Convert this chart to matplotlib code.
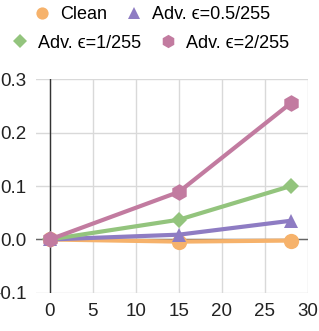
import matplotlib.pyplot as plt
from matplotlib.lines import Line2D

plt.rcParams['font.family'] = ['Liberation Sans', 'DejaVu Sans']

# Data
steps = [0, 15, 28]
clean = [0.0, -0.004, -0.002]
adv_05 = [0.0, 0.009, 0.035]
adv_1 = [0.0, 0.037, 0.100]
adv_2 = [0.0, 0.089, 0.255]

labels = ['Clean', 'Adv. ϵ=0.5/255', 'Adv. ϵ=1/255', 'Adv. ϵ=2/255']
colors = ['#F6B26B', '#8E7CC3', '#93C47D', '#C27BA0']
markers = ['o', '^', 'D', 'h']
msizes = [11, 10, 8.5, 12]
series = [clean, adv_05, adv_1, adv_2]

fig = plt.figure(figsize=(3.19, 3.31), dpi=100)
ax = fig.add_axes([36 / 319, 0.115, 272 / 319, 0.646])

for vals, c, m, ms in zip(series, colors, markers, msizes):
    ax.plot(steps, vals, color=c, lw=3, marker=m, markersize=ms,
            markeredgewidth=0, zorder=3)

ax.set_xlim(-1.6, 30)
ax.set_ylim(-0.1, 0.3)
ax.set_xticks([0, 5, 10, 15, 20, 25, 30])
ax.set_yticks([-0.1, 0.0, 0.1, 0.2, 0.3])
ax.set_yticklabels(['-0.1', '0.0', '0.1', '0.2', '0.3'])
ax.grid(True, color='#d9d9d9', lw=1)
ax.axhline(0, color='#666666', lw=1, zorder=2)
ax.axvline(0, color='#333333', lw=1, zorder=2)
for s in ax.spines.values():
    s.set_visible(False)
ax.tick_params(length=0, labelsize=13.5, colors='#222222')
ax.tick_params(axis='y', pad=7)
ax.tick_params(axis='x', pad=7)

handles = [Line2D([], [], ls='none', marker=m, color=c, markersize=ms * 0.8,
                  markeredgewidth=0)
           for c, m, ms in zip(colors, markers, msizes)]

leg1 = fig.legend(handles[:2], labels[:2], ncol=2, loc='center',
                  bbox_to_anchor=(0.475, 0.955), frameon=False, fontsize=13,
                  handlelength=1.0, handletextpad=0.5, columnspacing=1.0,
                  borderaxespad=0, borderpad=0)
leg2 = fig.legend(handles[2:], labels[2:], ncol=2, loc='center',
                  bbox_to_anchor=(0.47, 0.87), frameon=False, fontsize=13,
                  handlelength=1.0, handletextpad=0.5, columnspacing=1.0,
                  borderaxespad=0, borderpad=0)

fig.savefig('out.png', dpi=100)
